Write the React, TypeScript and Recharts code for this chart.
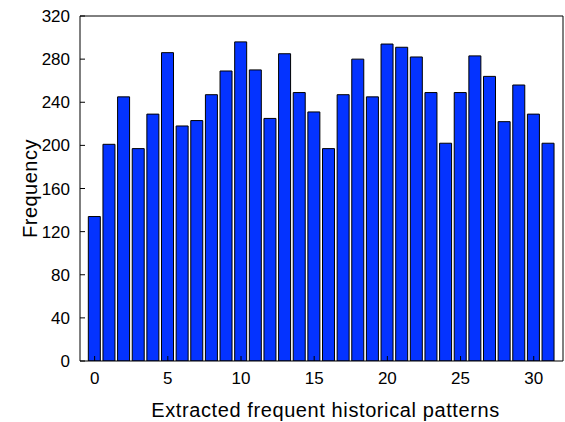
import React from "react";
import { BarChart, Bar, XAxis, YAxis, Label } from "recharts";

// pattern index 0..31 and how often each one showed up
const patterns = Array.from({ length: 32 }, (_, i) => i);
const frequency = [
  134, 201, 245, 197, 229, 286, 218, 223, 247, 269, 296, 270, 225, 285, 249, 231,
  197, 247, 280, 245, 294, 291, 282, 249, 202, 249, 283, 264, 222, 256, 229, 202,
];
const xTicks = [0, 5, 10, 15, 20, 25, 30];
const yTicks = [0, 40, 80, 120, 160, 200, 240, 280, 320];

const data = patterns.map((p, i) => ({ pattern: p, count: frequency[i] }));

const FONT = '"Liberation Sans", Arial, Helvetica, sans-serif';
// negative size turns the tick marks inward, into the plot box
const INWARD = -5;
const tickLine = { stroke: "#000" };

// tick label positions are relative to the inner end of the tick mark
const BottomTick = ({ x, y, payload }: any) => (
  <text x={x} y={y + 23 - INWARD} textAnchor="middle" fontSize={17} fontFamily={FONT} fill="#000">
    {payload.value}
  </text>
);

const LeftTick = ({ x, y, payload }: any) => (
  <text x={x - 10 + INWARD} y={y + 6} textAnchor="end" fontSize={17} fontFamily={FONT} fill="#000">
    {payload.value}
  </text>
);

export default function App() {
  return (
    <div style={{ width: 565, height: 422, background: "#fff" }}>
      <style>{`body{margin:0}`}</style>
      <BarChart
        width={565}
        height={422}
        data={data}
        margin={{ top: 11, right: 1, bottom: 11, left: 10 }}
      >
        <XAxis
          dataKey="pattern"
          type="number"
          domain={[-1, 32]}
          allowDataOverflow
          ticks={xTicks}
          interval={0}
          height={50}
          tickSize={INWARD}
          tickMargin={0}
          tickLine={tickLine}
          tick={<BottomTick />}
          axisLine={{ stroke: "#000" }}
        >
          <Label
            content={({ viewBox }: any) => (
              <text
                x={viewBox.x + viewBox.width / 2 + 4}
                y={viewBox.y + 56}
                textAnchor="middle"
                fontSize={20}
                letterSpacing={0.6}
                fontFamily={FONT}
                fill="#000"
              >
                Extracted frequent historical patterns
              </text>
            )}
          />
        </XAxis>
        <XAxis
          xAxisId="top"
          orientation="top"
          type="number"
          domain={[-1, 32]}
          allowDataOverflow
          ticks={xTicks}
          interval={0}
          height={5}
          tickSize={INWARD}
          tickLine={tickLine}
          tick={false}
          axisLine={{ stroke: "#000" }}
        />
        <YAxis
          type="number"
          domain={[0, 320]}
          allowDataOverflow
          ticks={yTicks}
          interval={0}
          width={70}
          tickSize={INWARD}
          tickMargin={0}
          tickLine={tickLine}
          tick={<LeftTick />}
          axisLine={{ stroke: "#000" }}
        >
          <Label
            content={({ viewBox }: any) => {
              const cx = viewBox.x + 27;
              const cy = viewBox.y + viewBox.height / 2;
              return (
                <text
                  x={cx}
                  y={cy}
                  transform={`rotate(-90, ${cx}, ${cy})`}
                  textAnchor="middle"
                  fontSize={20}
                  letterSpacing={0.5}
                  fontFamily={FONT}
                  fill="#000"
                >
                  Frequency
                </text>
              );
            }}
          />
        </YAxis>
        <YAxis
          yAxisId="right"
          orientation="right"
          type="number"
          domain={[0, 320]}
          allowDataOverflow
          ticks={yTicks}
          interval={0}
          width={1}
          tickSize={INWARD}
          tickLine={tickLine}
          tick={false}
          axisLine={{ stroke: "#000" }}
        />
        <Bar
          dataKey="count"
          barSize={12}
          fill="#0433ff"
          stroke="#000"
          strokeWidth={1}
          isAnimationActive={false}
        />
      </BarChart>
    </div>
  );
}
